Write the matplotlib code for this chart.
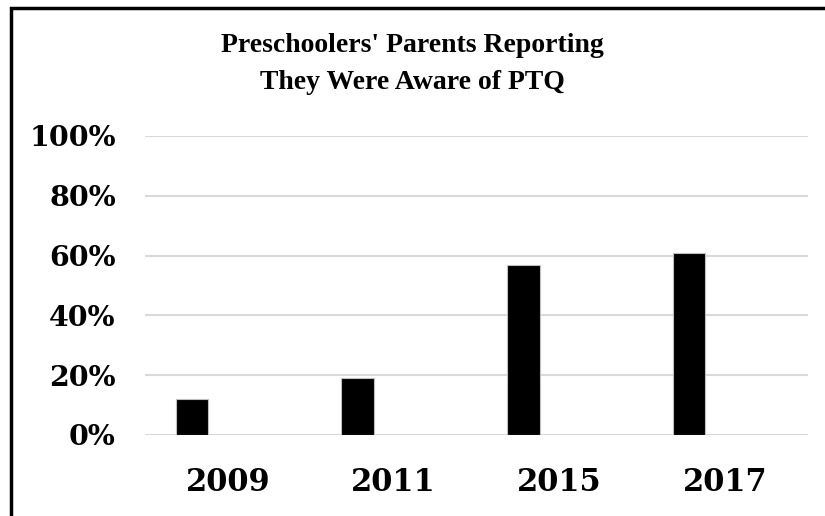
"""Bar chart: preschoolers' parents reporting awareness of PTQ."""

import matplotlib
matplotlib.use('Agg')
import matplotlib.pyplot as plt
from matplotlib.patches import Rectangle
from matplotlib.ticker import FuncFormatter
import numpy as np

# data
years = ['2009', '2011', '2015', '2017']
aware = [0.12, 0.19, 0.57, 0.61]
y_ticks = [0.0, 0.2, 0.4, 0.6, 0.8, 1.0]

title = "Preschoolers' Parents Reporting\nThey Were Aware of PTQ"

fig = plt.figure(figsize=(8.25, 5.16), dpi=100)
ax = fig.add_axes([0.1758, 0.157, 0.8036, 0.5795])

x = np.arange(len(years))
ax.bar(x - 0.217, aware, width=0.197, color='black',
       edgecolor='#bfbfbf', linewidth=0.8, zorder=3)

ax.set_xlim(-0.5, len(years) - 0.5)
ax.set_ylim(0, 1)
ax.set_yticks(y_ticks)
ax.yaxis.set_major_formatter(FuncFormatter(lambda v, _: f'{v * 100:.0f}%'))
ax.set_xticks(x)
ax.set_xticklabels(years)

ax.grid(axis='y', color='#d9d9d9', linewidth=1.5, zorder=0)
ax.set_axisbelow(True)
for s in ax.spines.values():
    s.set_visible(False)

ax.tick_params(axis='both', length=0)
ax.tick_params(axis='y', pad=21)
ax.tick_params(axis='x', pad=23)
for lab in ax.get_yticklabels():
    lab.set_fontfamily('DejaVu Serif')
    lab.set_fontweight('bold')
    lab.set_fontsize(20.5)
for lab in ax.get_xticklabels():
    lab.set_fontfamily('DejaVu Serif')
    lab.set_fontweight('bold')
    lab.set_fontsize(22)

fig.text(0.5, 0.876, title, ha='center', va='center', fontsize=20,
         fontweight='bold', family='Liberation Serif', linespacing=1.65)

# chart frame (only top and left edges fall inside the picture)
fig.patches.append(Rectangle((10.5 / 825, -0.1), 1.2, 1 - 7.5 / 516 + 0.1,
                             transform=fig.transFigure, fill=False,
                             edgecolor='black', linewidth=2.5))

fig.savefig('out.png', dpi=100)
